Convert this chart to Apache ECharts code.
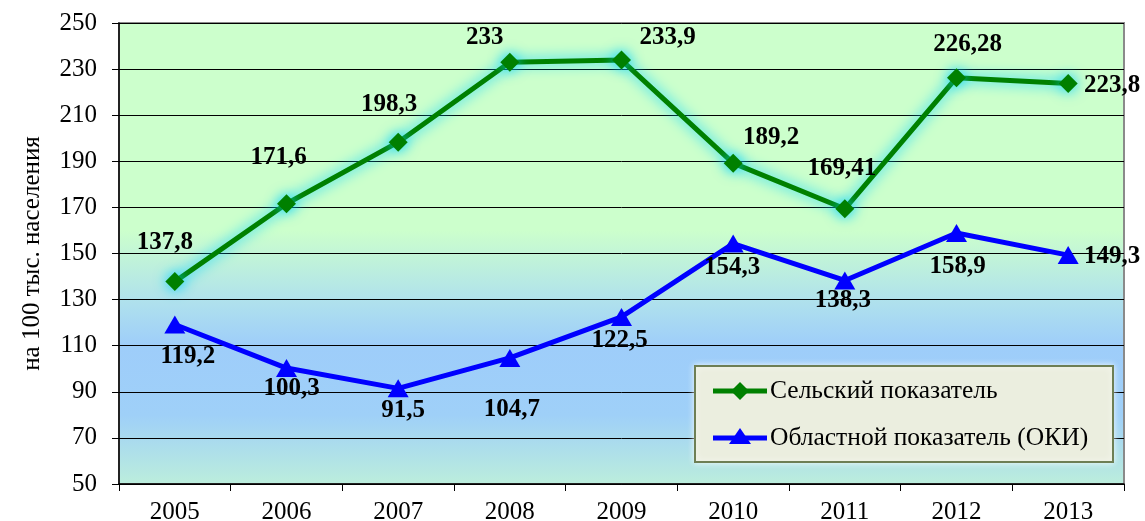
<!DOCTYPE html>
<html><head><meta charset="utf-8">
<script src="https://cdn.jsdelivr.net/npm/echarts@6/dist/echarts.min.js"></script>
<style>html,body{margin:0;padding:0;background:#fff}#c{width:1145px;height:521px}</style>
</head><body><div id="c"></div>
<script>
const years = ['2005','2006','2007','2008','2009','2010','2011','2012','2013'];
const rural = [137.8,171.6,198.3,233,233.9,189.2,169.41,226.28,223.8];
const rural_labels = ['137,8','171,6','198,3','233','233,9','189,2','169,41','226,28','223,8'];
const regional = [119.2,100.3,91.5,104.7,122.5,154.3,138.3,158.9,149.3];
const regional_labels = ['119,2','100,3','91,5','104,7','122,5','154,3','138,3','158,9','149,3'];
const yTicks = {min:50,max:250,interval:20};
const names = ['Сельский показатель','Областной показатель (ОКИ)'];

// label offsets (style only)
const ruralOff = [[-10,-39],[-8,-46],[-9,-38],[-25,-25],[46,-23],[38,-26],[-3,-40],[11,-33],[44,2]];
const regionalOff = [[13,32],[5,20],[5,22],[2,52],[-2,24],[-1,24],[-2,20],[1,34],[44,1]];

const font = '"Liberation Serif","Times New Roman",serif';
const chart = echarts.init(document.getElementById('c'));
function mk(vals, labels, offs){
  return vals.map((v,i)=>({value:v,label:{formatter:labels[i],offset:offs[i]}}));
}
chart.setOption({
  animation:false,
  grid:{left:119,right:21,top:23,bottom:37,show:true,outerBoundsMode:'none',containLabel:false,
    borderColor:'#8a8a8a',borderWidth:2,
    backgroundColor:new echarts.graphic.LinearGradient(0,0,0,1,[
      {offset:0,color:'#CCFFCC'},{offset:0.45,color:'#CCFFCC'},
      {offset:0.6,color:'#B0E2EC'},{offset:0.7,color:'#9ECDFA'},
      {offset:0.85,color:'#9FD0F8'},{offset:1,color:'#BCEEDC'}])},
  legend:{show:false},
  xAxis:{type:'category',data:years,boundaryGap:true,
    axisLine:{lineStyle:{color:'#000',width:1.5}},
    axisTick:{show:true,length:7,lineStyle:{color:'#000'}},
    axisLabel:{color:'#000',fontFamily:font,fontSize:25,margin:16},
    splitLine:{show:false}},
  yAxis:{type:'value',min:yTicks.min,max:yTicks.max,interval:yTicks.interval,
    name:'на 100 тыс. населения',nameLocation:'middle',nameGap:74,nameRotate:90,
    nameTextStyle:{color:'#000',fontFamily:font,fontSize:25},
    axisLine:{show:true,lineStyle:{color:'#000',width:1.5}},
    axisTick:{show:true,length:7,lineStyle:{color:'#000'}},
    axisLabel:{color:'#000',fontFamily:font,fontSize:25,margin:22},
    splitLine:{lineStyle:{color:'#000',width:1}}},
  series:[
    {name:names[0],type:'line',data:mk(rural,rural_labels,ruralOff),
      symbol:'diamond',symbolSize:19,
      lineStyle:{color:'#008000',width:5,shadowColor:'rgba(0,210,255,1)',shadowBlur:14},
      itemStyle:{color:'#008000',shadowColor:'rgba(0,210,255,1)',shadowBlur:14},
      label:{show:true,position:'inside',color:'#000',fontFamily:font,fontSize:25,fontWeight:'bold'},
      z:3},
    {name:names[1],type:'line',data:mk(regional,regional_labels,regionalOff),
      symbol:'triangle',symbolSize:[21,18],
      lineStyle:{color:'#0000FF',width:5},
      itemStyle:{color:'#0000FF'},
      label:{show:true,position:'inside',color:'#000',fontFamily:font,fontSize:25,fontWeight:'bold'},
      z:4}
  ],
  graphic:[
    {type:'rect',left:694,top:365,shape:{width:418,height:96},
      style:{fill:'#EBEEDF',stroke:'#6E7F55',lineWidth:2,shadowColor:'rgba(255,255,255,0.8)',shadowBlur:6},z:10},
    {type:'line',shape:{x1:713,y1:391,x2:767,y2:391},style:{stroke:'#008000',lineWidth:5},z:11},
    {type:'polygon',shape:{points:[[740,382],[749,391],[740,400],[731,391]]},style:{fill:'#008000'},z:11},
    {type:'text',x:770,y:391,style:{text:names[0],font:'25.5px '+font,fill:'#000',textVerticalAlign:'middle'},z:11},
    {type:'line',shape:{x1:713,y1:438,x2:767,y2:438},style:{stroke:'#0000FF',lineWidth:5},z:11},
    {type:'polygon',shape:{points:[[740,428],[751,444],[729,444]]},style:{fill:'#0000FF'},z:11},
    {type:'text',x:770,y:438,style:{text:names[1],font:'25.5px '+font,fill:'#000',textVerticalAlign:'middle'},z:11}
  ]
});
</script></body></html>
